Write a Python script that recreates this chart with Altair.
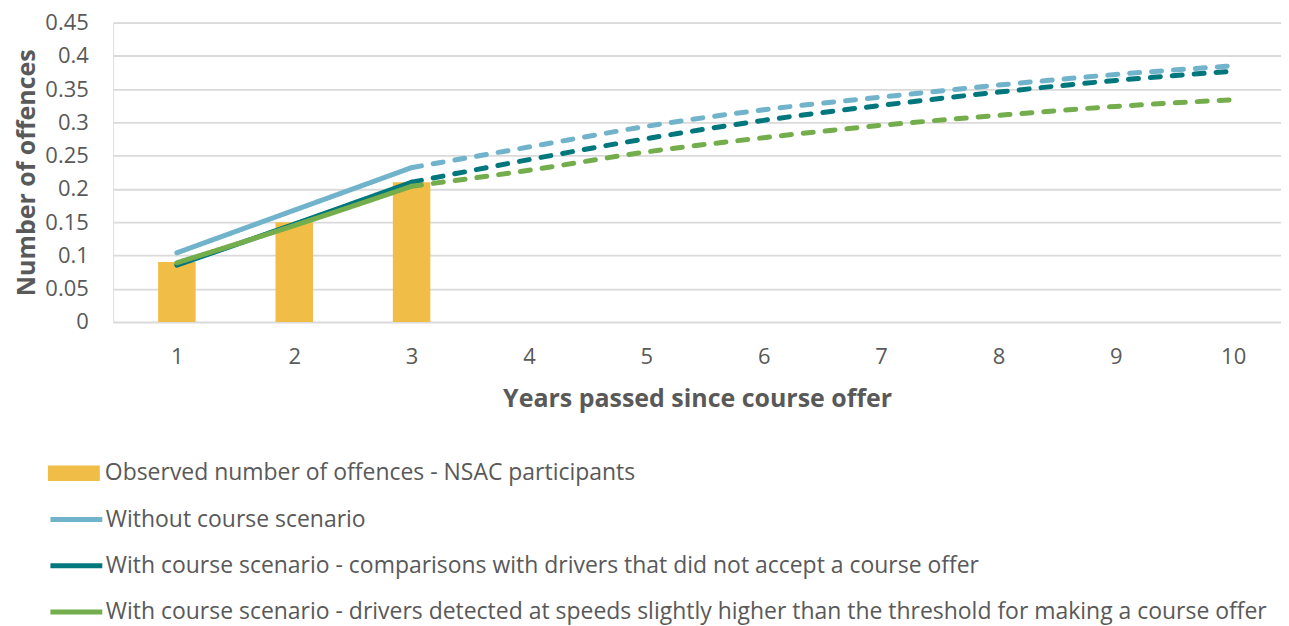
import altair as alt
import pandas as pd

# ---- data ----
years = [1, 2, 3, 4, 5, 6, 7, 8, 9, 10]
observed_years = [1, 2, 3]
observed = [0.09, 0.15, 0.21]
last_observed_year = 3

bar_label = "Observed number of offences - NSAC participants"
line_labels = [
    "Without course scenario",
    "With course scenario - comparisons with drivers that did not accept a course offer",
    "With course scenario - drivers detected at speeds slightly higher than the threshold for making a course offer",
]
without_course = [0.104, 0.168, 0.232, 0.263, 0.294, 0.319, 0.338, 0.356, 0.372, 0.385]
with_comparison = [0.0855, 0.147, 0.210, 0.244, 0.2755, 0.303, 0.3255, 0.3455, 0.363, 0.377]
with_threshold = [0.089, 0.145, 0.204, 0.228, 0.2555, 0.277, 0.2955, 0.3105, 0.324, 0.334]

y_ticks = [0, 0.05, 0.1, 0.15, 0.2, 0.25, 0.3, 0.35, 0.4, 0.45]

bar_color = "#F0BE46"
line_colors = ["#71B3CA", "#00777D", "#73AD4C"]
text_color = "#595959"
FONT = "Open Sans"

# ---- tables ----
bar_df = pd.DataFrame({"year": observed_years, "value": observed, "label": bar_label})

rows = []
for name, vals in zip(line_labels, [without_course, with_comparison, with_threshold]):
    for yr, v in zip(years, vals):
        if yr <= last_observed_year:
            rows.append({"year": yr, "value": v, "series": name, "part": "observed"})
        if yr >= last_observed_year:
            rows.append({"year": yr, "value": v, "series": name, "part": "projected"})
line_df = pd.DataFrame(rows)

x_scale = alt.Scale(domain=[0.5, 10.365], nice=False, zero=False)
y_scale = alt.Scale(domain=[0, 0.45], nice=False)

x_axis = alt.Axis(
    values=years, format="d", title="Years passed since course offer",
    grid=False, domain=False, ticks=False, labelOverlap=False, labelFlush=False,
    labelFont=FONT, labelFontSize=22, labelColor=text_color, labelPadding=24.5,
    titleFont=FONT, titleFontSize=25, titleFontWeight="bold", titleColor=text_color,
    titlePadding=19,
)
y_axis = alt.Axis(
    values=y_ticks, format="~g", title="Number of offences",
    grid=True, gridColor="#DADADA", gridWidth=1.8, domain=False, ticks=False,
    labelOverlap=False, labelFlush=False, labelBound=False,
    labelFont=FONT, labelFontSize=22, labelColor=text_color, labelPadding=25,
    titleFont=FONT, titleFontSize=25, titleFontWeight="bold", titleColor=text_color,
    titlePadding=5.5,
)

bars = alt.Chart(bar_df).mark_bar(size=37.6).encode(
    x=alt.X("year:Q", scale=x_scale, axis=x_axis),
    y=alt.Y("value:Q", scale=y_scale, axis=y_axis),
    fill=alt.Fill(
        "label:N",
        scale=alt.Scale(domain=[bar_label], range=[bar_color]),
        legend=alt.Legend(
            title=None, orient="none", legendX=-52.4, legendY=438.5,
            symbolType="M-2,-0.6H2V0.6H-2Z", symbolSize=676, symbolStrokeWidth=0,
            labelFont=FONT, labelFontSize=23, labelColor=text_color,
            labelLimit=0, labelOffset=18, padding=0,
        ),
    ),
)

lines = alt.Chart(line_df).mark_line(
    strokeWidth=5, strokeCap="round", strokeJoin="round", interpolate="monotone"
).encode(
    x=alt.X("year:Q", scale=x_scale, axis=x_axis),
    y=alt.Y("value:Q", scale=y_scale, axis=y_axis),
    stroke=alt.Stroke(
        "series:N",
        scale=alt.Scale(domain=line_labels, range=line_colors),
        legend=alt.Legend(
            title=None, orient="none", legendX=-52.4, legendY=482.5,
            direction="vertical",
            symbolType="M-2,0H2", symbolSize=676, symbolStrokeWidth=5,
            labelFont=FONT, labelFontSize=23, labelColor=text_color,
            labelLimit=0, labelOffset=14, padding=0, rowPadding=18.3,
        ),
    ),
    strokeDash=alt.StrokeDash(
        "part:N",
        scale=alt.Scale(domain=["observed", "projected"], range=[[1, 0], [10, 12]]),
        legend=None,
    ),
    order=alt.Order("year:Q"),
)

chart = alt.layer(bars, lines).properties(
    width=1170, height=300,
    padding={"left": 105.4, "top": 14, "right": 0, "bottom": 304},
    autosize=alt.AutoSizeParams(type="none"),
).configure_view(stroke=None).configure_axis(
    labelOverlap=False
).configure(background="white")

chart.save("out.html", embed_options={"renderer": "svg", "actions": False})
